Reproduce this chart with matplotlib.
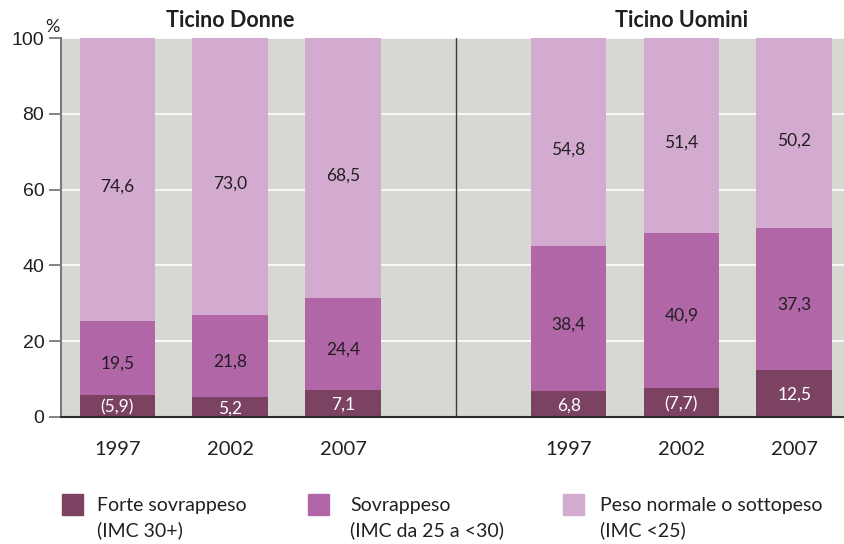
import numpy as np
from matplotlib import pyplot as plt
from matplotlib.patches import Rectangle

# Values (percent)
years = ['1997', '2002', '2007']
groups = ['Ticino Donne', 'Ticino Uomini']
forte = [5.9, 5.2, 7.1, 6.8, 7.7, 12.5]
sovra = [19.5, 21.8, 24.4, 38.4, 40.9, 37.3]
normale = [74.6, 73.0, 68.5, 54.8, 51.4, 50.2]
forte_labels = ['(5,9)', '5,2', '7,1', '6,8', '(7,7)', '12,5']
legend_labels = ['Forte sovrappeso\n(IMC 30+)',
                 'Sovrappeso\n(IMC da 25 a <30)',
                 'Peso normale o sottopeso\n(IMC <25)']

c_forte = '#7b4262'
c_sovra = '#b166a8'
c_norm = '#d3abd1'
bg = '#d8d8d3'
txt = '#231f20'

plt.rcParams['font.family'] = ['Lato', 'DejaVu Sans']

fig = plt.figure(figsize=(8.45, 5.44), dpi=100)
ax = fig.add_axes([0.0722, 0.2335, 0.9278, 0.6965])
ax.set_facecolor(bg)

x = np.array([0, 1, 2, 4, 5, 6])
w = 0.67
forte = np.array(forte)
sovra = np.array(sovra)
normale = np.array(normale)

ax.bar(x, forte, w, color=c_forte, zorder=3)
ax.bar(x, sovra, w, bottom=forte, color=c_sovra, zorder=3)
ax.bar(x, normale, w, bottom=forte + sovra, color=c_norm, zorder=3)

# value labels
for i in range(len(x)):
    ax.text(x[i], forte[i] / 2 - 0.4, forte_labels[i], ha='center', va='center',
            color='white', fontsize=12.5, zorder=4)
    ax.text(x[i], forte[i] + sovra[i] / 2 - 1.5, f'{sovra[i]:.1f}'.replace('.', ','),
            ha='center', va='center', color=txt, fontsize=12.5, zorder=4)
    ax.text(x[i], forte[i] + sovra[i] + normale[i] / 2 - 2,
            f'{normale[i]:.1f}'.replace('.', ','),
            ha='center', va='center', color=txt, fontsize=12.5, zorder=4)

# separator between the two panels
ax.axvline(3, color='#3a3a3a', linewidth=1, zorder=2)

ax.set_xlim(-0.5, 6.45)
ax.set_ylim(0, 100)
ax.set_yticks([0, 20, 40, 60, 80, 100])
ax.set_yticklabels(['0', '20', '40', '60', '80', '100'], family='Liberation Sans')
ax.yaxis.grid(True, color='white', linewidth=1.2, zorder=1)
ax.set_axisbelow(True)

ax.set_xticks(x)
ax.set_xticklabels(years * 2)
ax.tick_params(axis='x', length=0, pad=17, labelsize=14.5, labelcolor=txt)
ax.tick_params(axis='y', length=9, width=1.2, color='#6e6e6e', labelsize=14,
               labelcolor=txt, pad=3)

for s in ['top', 'right']:
    ax.spines[s].set_visible(False)
ax.spines['left'].set_color('#7a7a7a')
ax.spines['left'].set_linewidth(1.5)
ax.spines['bottom'].set_color('#2a2a2a')
ax.spines['bottom'].set_linewidth(1.5)
ax.spines['bottom'].set_zorder(5)

# panel titles
ax.text(1, 102, groups[0], ha='center', va='bottom', fontsize=15.5,
        fontweight='bold', color=txt)
ax.text(5, 102, groups[1], ha='center', va='bottom', fontsize=15.5,
        fontweight='bold', color=txt)
fig.text(0.062, 0.935, '%', ha='center', va='bottom', fontsize=13, color=txt)

# legend
colors = [c_forte, c_sovra, c_norm]
box_x = [62, 308, 563]
text_x = [97, 350, 600]
for bx, tx, col, lab in zip(box_x, text_x, colors, legend_labels):
    fig.add_artist(Rectangle((bx / 845, 1 - 515 / 544), 21 / 845, 21 / 544,
                             transform=fig.transFigure, color=col))
    fig.text(tx / 845, 1 - 497 / 544, lab, ha='left', va='top', fontsize=14,
             color=txt, linespacing=1.5)

fig.savefig('out.png', dpi=100)
